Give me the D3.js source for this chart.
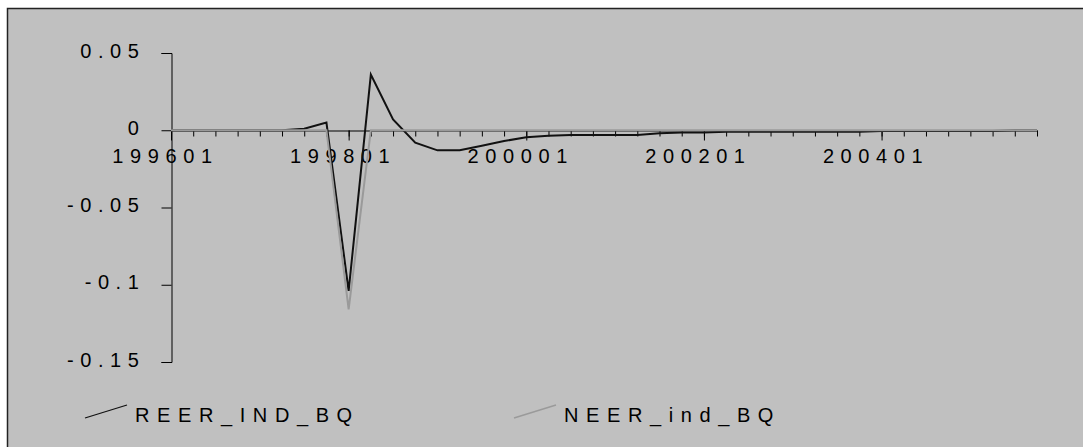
<!DOCTYPE html>
<meta charset="utf-8" />
<style>
  body {
    margin: 0;
    background: #fff;
  }
  text {
    font: 20px "Liberation Sans", Arial, sans-serif;
    letter-spacing: 6.6px;
    fill: #000;
  }
  .legend text {
    letter-spacing: 7.6px;
  }
</style>
<svg width="1083" height="447"></svg>
<script src="https://d3js.org/d3.v7.min.js"></script>
<script>
  // quarterly periods 1996Q1 .. 2005Q4, labelled YYYYQQ
  var periods = [];
  for (var y = 1996; y <= 2005; y++) {
    for (var q = 1; q <= 4; q++) periods.push(y + "0" + q);
  }

  var tickLabels = ["199601", "199801", "200001", "200201", "200401"];
  var yTicks = [0.05, 0, -0.05, -0.1, -0.15];

  var reer = [
    0, 0, 0, 0, 0, 0, 0.001, 0.005,
    -0.104, 0.036, 0.007, -0.008, -0.013, -0.013, -0.01, -0.007,
    -0.0045, -0.0035, -0.003, -0.003, -0.003, -0.003, -0.002, -0.0015,
    -0.0015, -0.001, -0.001, -0.001, -0.001, -0.001, -0.001, -0.001,
    -0.0005, -0.0005, -0.0005, -0.0005, -0.0005, -0.0005, 0, 0
  ];

  var neer = [
    0, 0, 0, 0, 0, 0, 0, 0,
    -0.116, 0, 0, 0, 0, 0, 0, 0,
    0, 0, 0, 0, 0, 0, 0, 0,
    0, 0, 0, 0, 0, 0, 0, 0,
    0, 0, 0, 0, 0, 0, 0, 0
  ];

  var seriesNames = ["REER_IND_BQ", "NEER_ind_BQ"];
  var seriesColors = ["#111", "#9a9a9a"];

  var svg = d3.select("svg");

  // chart area frame (runs off the right and bottom edges)
  svg.append("rect")
    .attr("x", 7.5)
    .attr("y", 8.5)
    .attr("width", 1200)
    .attr("height", 600)
    .attr("fill", "#c0c0c0")
    .attr("stroke", "#222")
    .attr("stroke-width", 1.5);

  var x = d3.scalePoint().domain(periods).range([171, 1037]);
  var yScale = d3.scaleLinear().domain([-0.15, 0.05]).range([362, 53]);

  // y axis
  var gy = svg.append("g")
    .attr("transform", "translate(171.5,0)")
    .call(d3.axisLeft(yScale).tickValues(yTicks).tickSize(10).tickPadding(16)
      .tickFormat(d => String(d)));
  gy.select(".domain").attr("stroke", "#000");
  gy.selectAll(".tick line").attr("stroke", "#000");
  gy.selectAll("text")
    .attr("font-family", null).attr("font-size", null)
    .attr("dy", "0.2em");

  // x axis: minor ticks every quarter
  var y0 = Math.round(yScale(0)) + 0.5;
  var gx = svg.append("g")
    .attr("transform", "translate(0," + y0 + ")")
    .call(d3.axisBottom(x).tickSize(6).tickSizeOuter(0).tickFormat(""));
  gx.select(".domain").attr("stroke", "#000");
  gx.selectAll(".tick line").attr("stroke", "#000");

  // major ticks with labels
  var gx2 = svg.append("g")
    .attr("transform", "translate(0," + y0 + ")")
    .call(d3.axisBottom(x).tickValues(tickLabels).tickSize(10).tickSizeOuter(0));
  gx2.select(".domain").remove();
  gx2.selectAll(".tick line").attr("stroke", "#000");
  gx2.selectAll("text")
    .attr("font-family", null).attr("font-size", null)
    .attr("x", -6)
    .attr("y", 32)
    .attr("dy", 0);

  var line = d3.line()
    .x((d, i) => x(periods[i]))
    .y(d => yScale(d));

  svg.append("path")
    .datum(reer)
    .attr("fill", "none")
    .attr("stroke", seriesColors[0])
    .attr("stroke-width", 2)
    .attr("d", line);

  svg.append("path")
    .datum(neer)
    .attr("fill", "none")
    .attr("stroke", seriesColors[1])
    .attr("stroke-width", 2)
    .attr("d", line);

  // legend
  var legend = svg.append("g").attr("class", "legend");
  var legendX = [85, 514];
  seriesNames.forEach(function (name, i) {
    var g = legend.append("g").attr("transform", "translate(" + legendX[i] + ",0)");
    g.append("line")
      .attr("x1", 0).attr("y1", 418)
      .attr("x2", 42).attr("y2", 405)
      .attr("stroke", seriesColors[i])
      .attr("stroke-width", i === 0 ? 1.3 : 1.5);
    g.append("text")
      .attr("x", 50)
      .attr("y", 422)
      .text(name);
  });
</script>
